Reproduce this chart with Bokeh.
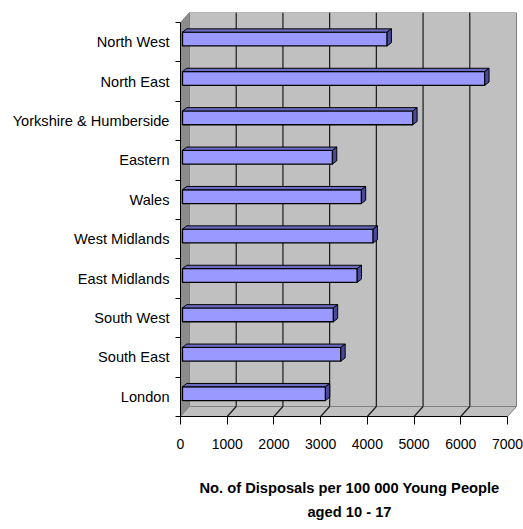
from bokeh.plotting import figure
from bokeh.models import Range1d, FixedTicker, ColumnDataSource
from bokeh.embed import file_html
from bokeh.resources import INLINE

# ---- data (bottom to top) ----
regions = ["London", "South East", "South West", "East Midlands", "West Midlands",
           "Wales", "Eastern", "Yorkshire & Humberside", "North East", "North West"]
disposals = [3060, 3390, 3230, 3740, 4080, 3830, 3210, 4930, 6470, 4380]
x_ticks = [0, 1000, 2000, 3000, 4000, 5000, 6000, 7000]

FONT = "Liberation Sans Narrow, Arial Narrow, Liberation Sans, Arial, sans-serif"

XMAX = 7000
px_x = 327.0 / XMAX          # px per data unit in x
n = len(regions)
px_y = 39.4                  # px per category
DX = 9 / px_x                # wall depth in data units
DY = 10 / px_y
OX = 2 / px_x                # bar front offset
BDX = 4.3 / px_x             # bar depth
BDY = 3.3 / px_y

p = figure(width=523, height=529, output_backend="svg", toolbar_location=None,
           x_range=Range1d(0, XMAX * 338 / 327), y_range=Range1d(0, n + DY),
           min_border_left=180, min_border_right=5, min_border_top=12, min_border_bottom=113,
           background_fill_color="white", border_fill_color="white")
p.outline_line_color = None
p.grid.visible = False

# ---- walls ----
wall_grey = "#C0C0C0"
edge_grey = "#808080"
# back wall
p.quad(left=DX, right=XMAX + DX, bottom=DY, top=n + DY, fill_color=wall_grey,
       line_color=edge_grey, line_width=1)
# left wall
p.patch([0, DX, DX, 0], [0, DY, n + DY, n], fill_color="#8C8C8C", line_color=edge_grey, line_width=1)
# floor
p.patch([0, XMAX, XMAX + DX, DX], [0, 0, DY, DY], fill_color=wall_grey, line_color=edge_grey, line_width=1)

# gridlines on back wall and floor
inner = [t for t in x_ticks if 0 < t < XMAX]
p.segment(x0=[t + DX for t in inner], y0=[DY] * len(inner), x1=[t + DX for t in inner],
          y1=[n + DY] * len(inner), line_color="#1a1a1a", line_width=1.2)
p.segment(x0=inner, y0=[0] * len(inner), x1=[t + DX for t in inner], y1=[DY] * len(inner),
          line_color="#1a1a1a", line_width=1.2)

# ---- 3D bars ----
bot = [i + 0.405 for i in range(n)]
top = [i + 0.755 for i in range(n)]
right = [v + OX for v in disposals]
src = ColumnDataSource(dict(left=[OX] * n, right=right, bottom=bot, top=top))
p.quad(left="left", right="right", bottom="bottom", top="top", source=src,
       fill_color="#9999FF", line_color="black", line_width=1.3)
top_xs = [[OX, r, r + BDX, OX + BDX] for r in right]
top_ys = [[t, t, t + BDY, t + BDY] for t in top]
p.patches(top_xs, top_ys, fill_color="#6B6BC2", line_color="black", line_width=1.0)
side_xs = [[r, r + BDX, r + BDX, r] for r in right]
side_ys = [[b, b + BDY, t + BDY, t] for b, t in zip(bot, top)]
p.patches(side_xs, side_ys, fill_color="#4A4A96", line_color="black", line_width=1.0)

# ---- axes ----
xa = p.xaxis[0]
xa.ticker = FixedTicker(ticks=x_ticks, minor_ticks=[])
xa.bounds = (0, XMAX)
xa.major_tick_out = 8
xa.major_tick_in = 0
xa.minor_tick_out = 0
xa.axis_line_color = "black"
xa.major_tick_line_color = "black"
xa.major_label_text_font = FONT
xa.major_label_text_font_size = "14px"
xa.major_label_text_color = "black"
xa.major_label_standoff = 14
xa.axis_label = "No. of Disposals per 100 000 Young People\naged 10 - 17"
xa.axis_label_text_font = FONT
xa.axis_label_text_font_style = "bold"
xa.axis_label_text_font_size = "14.7px"
xa.axis_label_text_color = "black"
xa.axis_label_text_line_height = 1.5
xa.axis_label_standoff = 28

ya = p.yaxis[0]
centers = [i + 0.5 for i in range(n)]
ya.ticker = FixedTicker(ticks=centers, minor_ticks=list(range(n + 1)))
ya.major_label_overrides = {c: r for c, r in zip(centers, regions)}
ya.bounds = (0, n)
ya.major_tick_out = 0
ya.major_tick_in = 0
ya.minor_tick_out = 5
ya.minor_tick_in = 0
ya.minor_tick_line_color = "black"
ya.axis_line_color = "black"
ya.major_label_text_font = FONT
ya.major_label_text_font_size = "14.6px"
ya.major_label_text_color = "black"
ya.major_label_standoff = 6

open("out.html", "w").write(file_html(p, INLINE))
